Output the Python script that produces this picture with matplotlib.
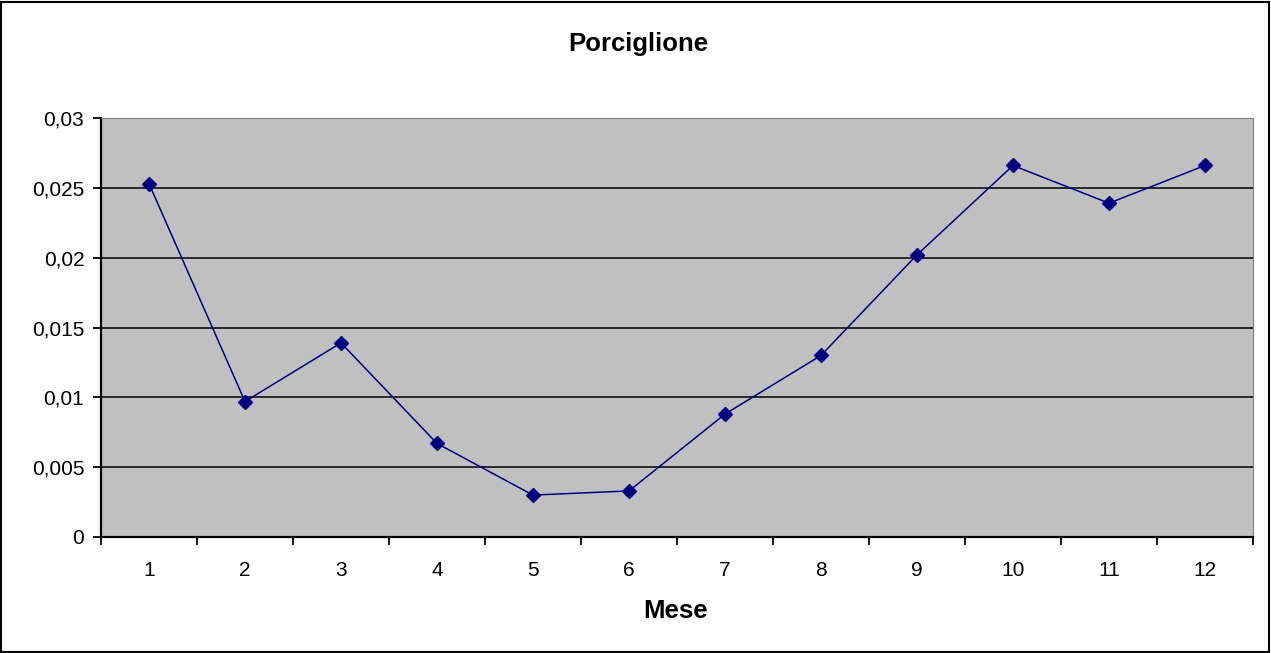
import matplotlib
matplotlib.use("Agg")
import matplotlib.pyplot as plt
from matplotlib.patches import Rectangle
import numpy as np

plt.rcParams['font.family'] = ['Liberation Sans', 'DejaVu Sans']

mesi = [1, 2, 3, 4, 5, 6, 7, 8, 9, 10, 11, 12]
valori = [0.0253, 0.0097, 0.0139, 0.0067, 0.0030, 0.0033,
          0.0088, 0.0130, 0.0202, 0.0266, 0.0239, 0.0266]
y_ticks = [0, 0.005, 0.01, 0.015, 0.02, 0.025, 0.03]
y_labels = ['0', '0,005', '0,01', '0,015', '0,02', '0,025', '0,03']

W, H = 1271, 653
fig = plt.figure(figsize=(W / 100, H / 100), dpi=100)
ax = fig.add_axes([101 / W, 1 - 537 / H, (1253 - 101) / W, (537 - 118) / H])

# cornice esterna
fig.patches.append(Rectangle((1 / W, 1 / H), 1 - 3 / W, 1 - 3 / H, transform=fig.transFigure,
                             fill=False, edgecolor='black', linewidth=1.5))

ax.set_facecolor('#C0C0C0')
x = np.arange(len(mesi))
ax.plot(x, valori, color='#000080', linewidth=1.1, marker='D', markersize=7,
        markerfacecolor='#000080', markeredgecolor='#000080', zorder=3)

ax.set_xlim(-0.5, len(mesi) - 0.5)
ax.set_ylim(0, 0.03)
ax.set_yticks(y_ticks)
ax.set_yticklabels(y_labels)
ax.yaxis.grid(True, color='black', linewidth=1.1)
ax.set_axisbelow(True)

ax.set_xticks(np.arange(len(mesi) + 1) - 0.5)
ax.set_xticklabels([])
ax.set_xticks(x, minor=True)
ax.set_xticklabels([str(m) for m in mesi], minor=True)
ax.tick_params(axis='x', which='minor', length=0, pad=17, labelsize=15)
ax.tick_params(axis='x', which='major', length=6, width=1.3, direction='out')
ax.tick_params(axis='y', length=6, width=1.3, direction='out', labelsize=15, pad=6)

for s in ['top', 'right']:
    ax.spines[s].set_color('#808080')
for s in ['left', 'bottom']:
    ax.spines[s].set_color('black')
    ax.spines[s].set_linewidth(1.6)

fig.text(638 / W, 1 - 44 / H, 'Porciglione', ha='center', va='center', fontsize=18.5, fontweight='bold')
fig.text(676 / W, 1 - 611 / H, 'Mese', ha='center', va='center', fontsize=18.5, fontweight='bold')

fig.savefig('out.png', dpi=100)
